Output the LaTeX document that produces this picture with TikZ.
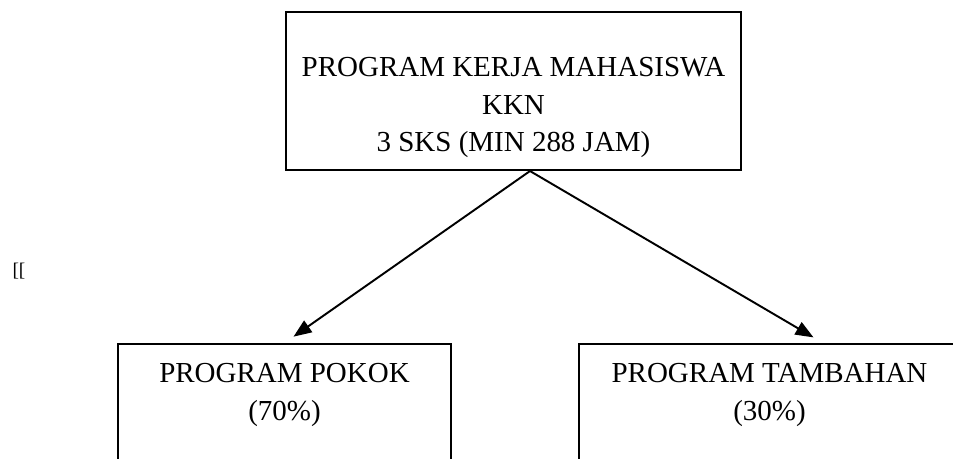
\documentclass[tikz,border=0pt]{standalone}
\usepackage{fontspec}
\setmainfont{Liberation Serif}
\usepackage{tikz}
\usetikzlibrary{arrows.meta}

\begin{document}
\begin{tikzpicture}[
  x=0.02cm, y=-0.02cm,
  box/.style={rectangle, draw, line width=1.2pt, align=center, inner sep=0pt, font=\fontsize{16.5}{21.5}\selectfont},
  arrow/.style={-{Triangle[length=0.36cm, width=0.28cm]}, line width=1.1pt, shorten >=0.22cm}
]
\useasboundingbox (0,0) rectangle (953,459);
\clip (0,0) rectangle (953,459);
\node[box, minimum width=9.1cm, minimum height=3.16cm, text height=2.8cm, text depth=0.36cm] (kerja) at (513.5,91) {PROGRAM KERJA MAHASISWA\\ KKN\\ 3 SKS (MIN 288 JAM)};
\node[box, minimum width=6.66cm, minimum height=2.72cm, text height=1.52cm, text depth=1.2cm] (pokok) at (284.5,412) {PROGRAM POKOK\\ (70\%)};
\node[box, minimum width=7.62cm, minimum height=2.72cm, text height=1.52cm, text depth=1.2cm] (tambahan) at (769.5,412) {PROGRAM TAMBAHAN\\ (30\%)};
\node[font=\fontsize{11}{12}\selectfont] (mark) at (19,271) {[[};

\draw[arrow] ([xshift=0.33cm]kerja.south) -- (pokok.north);
\draw[arrow] ([xshift=0.33cm]kerja.south) -- ([xshift=1.07cm]tambahan.north);
\end{tikzpicture}
\end{document}
